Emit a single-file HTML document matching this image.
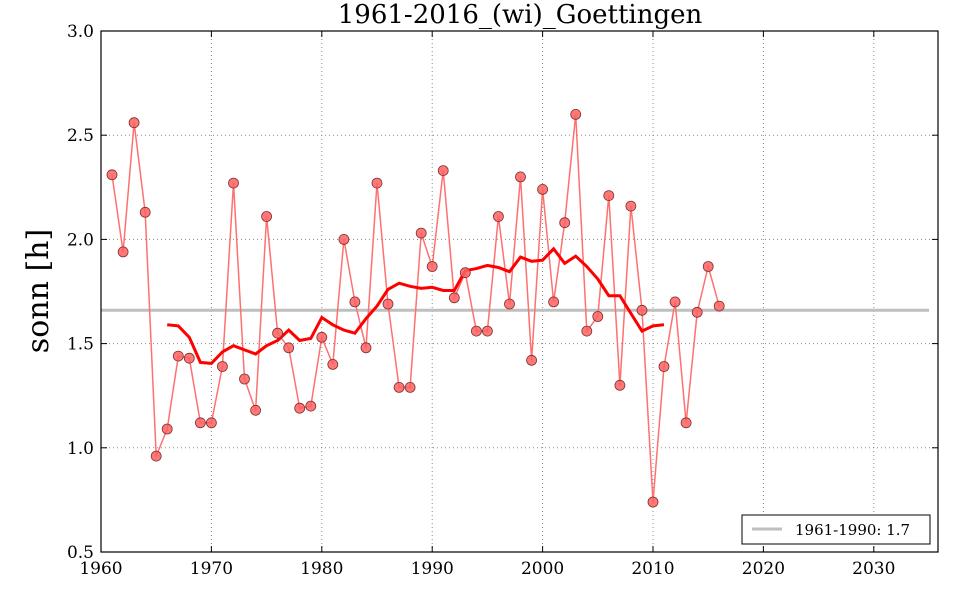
<!DOCTYPE html>
<html><head><meta charset="utf-8"><style>
html,body{margin:0;padding:0;background:#fff;}
svg text{font-family:"DejaVu Serif","Liberation Serif",serif;}
</style></head><body>
<svg id="s" width="960" height="600" xmlns="http://www.w3.org/2000/svg">
<rect width="960" height="600" fill="#fff"/>
<text x="520" y="23" font-size="26" text-anchor="middle">1961-2016_(wi)_Goettingen</text>
<text transform="translate(48,291) rotate(-90)" font-size="30" text-anchor="middle">sonn [h]</text>
<g id="g"></g>
</svg>
<script>
var X0=101,X1=938,Y0=31,Y1=552;
function X(y){return X0+(y-1960)*11.04;}
function Y(v){return Y1-(v-0.5)*208.4;}
var g=document.getElementById('g'),h='';
// grid
for(var yr=1970;yr<=2030;yr+=10){h+='<line x1="'+X(yr)+'" y1="'+Y0+'" x2="'+X(yr)+'" y2="'+Y1+'" stroke="#888" stroke-dasharray="1,3"/>';}
for(var v=1.0;v<=2.51;v+=0.5){h+='<line x1="'+X0+'" y1="'+Y(v)+'" x2="'+X1+'" y2="'+Y(v)+'" stroke="#888" stroke-dasharray="1,3"/>';}
// ticks and labels
for(var yr=1960;yr<=2030;yr+=10){var x=X(yr);h+='<line x1="'+x+'" y1="'+Y1+'" x2="'+x+'" y2="'+(Y1-6)+'" stroke="#000"/><line x1="'+x+'" y1="'+Y0+'" x2="'+x+'" y2="'+(Y0+6)+'" stroke="#000"/><text x="'+x+'" y="574" font-size="17" text-anchor="middle">'+yr+'</text>';}
var labs=['0.5','1.0','1.5','2.0','2.5','3.0'];
for(var i=0;i<6;i++){var y=Y(0.5+i*0.5);h+='<line x1="'+X0+'" y1="'+y+'" x2="'+(X0+6)+'" y2="'+y+'" stroke="#000"/><line x1="'+X1+'" y1="'+y+'" x2="'+(X1-6)+'" y2="'+y+'" stroke="#000"/><text x="94" y="'+(y+6)+'" font-size="17" text-anchor="end">'+labs[i]+'</text>';}
// baseline
h+='<line x1="'+X0+'" y1="'+Y(1.66)+'" x2="929" y2="'+Y(1.66)+'" stroke="#bfbfbf" stroke-width="3"/>';
var d=[2.31,1.94,2.56,2.13,0.96,1.09,1.44,1.43,1.12,1.12,1.39,2.27,1.33,1.18,2.11,1.55,1.48,1.19,1.20,1.53,1.40,2.00,1.70,1.48,2.27,1.69,1.29,1.29,2.03,1.87,2.33,1.72,1.84,1.56,1.56,2.11,1.69,2.30,1.42,2.24,1.70,2.08,2.60,1.56,1.63,2.21,1.30,2.16,1.66,0.74,1.39,1.70,1.12,1.65,1.87,1.68];
var p=[];for(var i=0;i<d.length;i++)p.push(X(1961+i).toFixed(1)+','+Y(d[i]).toFixed(1));
h+='<polyline points="'+p.join(' ')+'" fill="none" stroke="#ff7070" stroke-width="1.5"/>';
var m=[1.59,1.585,1.53,1.41,1.405,1.46,1.49,1.47,1.45,1.49,1.515,1.565,1.515,1.525,1.625,1.59,1.565,1.55,1.62,1.68,1.76,1.79,1.775,1.765,1.77,1.755,1.755,1.85,1.86,1.875,1.865,1.845,1.915,1.895,1.90,1.955,1.885,1.92,1.87,1.81,1.73,1.73,1.645,1.56,1.585,1.59];
var q=[];for(var i=0;i<m.length;i++)q.push(X(1966+i).toFixed(1)+','+Y(m[i]).toFixed(1));
h+='<polyline points="'+q.join(' ')+'" fill="none" stroke="#ff0000" stroke-width="3"/>';
for(var i=0;i<d.length;i++)h+='<circle cx="'+X(1961+i).toFixed(1)+'" cy="'+Y(d[i]).toFixed(1)+'" r="5" fill="#ff6060" fill-opacity="0.85" stroke="#803030" stroke-width="0.8"/>';
// frame
h+='<rect x="'+X0+'" y="'+Y0+'" width="'+(X1-X0)+'" height="'+(Y1-Y0)+'" fill="none" stroke="#000" stroke-width="1.2"/>';
// legend
h+='<rect x="742" y="515" width="188" height="29" fill="#fff" stroke="#000"/><line x1="752" y1="529" x2="782" y2="529" stroke="#bfbfbf" stroke-width="3"/><text x="795" y="535" font-size="15">1961-1990: 1.7</text>';
g.innerHTML=h;
</script>
</body></html>
